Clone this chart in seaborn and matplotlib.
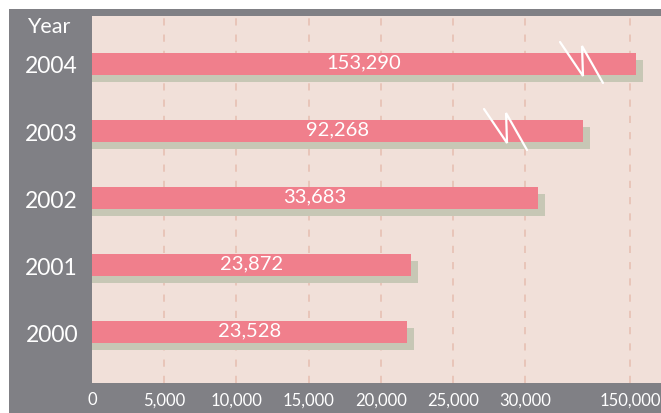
import numpy as np
import pandas as pd
import matplotlib
matplotlib.use("Agg")
import matplotlib.pyplot as plt
import matplotlib.transforms as mtransforms
from matplotlib.patches import Rectangle
from matplotlib.lines import Line2D
import seaborn as sns

# ---- data ----
years = ["2004", "2003", "2002", "2001", "2000"]
value_labels = ["153,290", "92,268", "33,683", "23,872", "23,528"]
# drawn bar lengths on the broken axis (as they appear in the picture)
bar_lengths = [156900, 96300, 44900, 22100, 21830]
# bars that carry a break mark, and where the mark sits (data units)
break_years = ["2004", "2003"]
break_at = [70000, 27160]
tick_values = [0, 5000, 10000, 15000, 20000, 25000, 30000, 150000]
tick_labels = ["0", "5,000", "10,000", "15,000", "20,000", "25,000", "30,000", "150,000"]

FRAME = "#808085"
BG = "#f1e0d9"
PINK = "#f07f8c"
SHADOW = "#c7c7b5"
GRID = "#e8c3b6"

sns.set_theme(style="white")
plt.rcParams["font.family"] = ["Lato", "DejaVu Sans"]

# broken-axis scale: linear to 30,000 then compressed
K = 0.06058
def fwd(v):
    v = np.asarray(v, dtype=float)
    return np.where(v <= 30000, v, 30000 + (v - 30000) * K)
def inv(u):
    u = np.asarray(u, dtype=float)
    return np.where(u <= 30000, u, 30000 + (u - 30000) / K)

W, H = 661, 414
fig = plt.figure(figsize=(W / 100, H / 100), dpi=100)
fig.patch.set_facecolor("white")
frame = Rectangle((9 / W, 0), 1, (H - 10) / H, transform=fig.transFigure,
                  facecolor=FRAME, edgecolor="none", zorder=-10)
fig.add_artist(frame)

ax = fig.add_axes([92 / W, (H - 384) / H, (W - 92) / W, (384 - 17) / H])
ax.set_zorder(1)
ax.set_facecolor(BG)

df = pd.DataFrame({"year": years, "length": bar_lengths})

sns.barplot(data=df, y="year", x="length", order=years, orient="h", color=SHADOW,
            saturation=1, width=0.33, ax=ax, zorder=2, linewidth=0, edgecolor="none")
n_shadow = len(ax.patches)
sns.barplot(data=df, y="year", x="length", order=years, orient="h", color=PINK,
            saturation=1, width=0.33, ax=ax, zorder=3, linewidth=0, edgecolor="none")

ax.set_xscale("function", functions=(fwd, inv))
ax.set_xlim(0, 185500)
ax.set_ylim(4.76, -0.716)

# shadow: extend to the left (clipped) and shift right/down
off = mtransforms.ScaledTranslation(7 / 100, -7 / 100, fig.dpi_scale_trans)
for p in ax.patches[:n_shadow]:
    x0, w = p.get_x(), p.get_width()
    p.set_x(-20000)
    p.set_width(x0 + w + 20000)
    p.set_transform(ax.transData + off)
    p.set_zorder(2)

# grid
ax.set_xticks(tick_values)
ax.set_xticklabels(tick_labels)
ax.grid(axis="x", color=GRID, linestyle=(0, (4, 5)), linewidth=1.3, zorder=1)
ax.set_axisbelow(True)
gl = ax.get_xgridlines()
if gl:
    gl[0].set_visible(False)

for s in ax.spines.values():
    s.set_visible(False)
ax.set_xlabel("")
ax.set_ylabel("")
ax.tick_params(axis="x", length=0, pad=6, labelsize=12, labelcolor="white")
ax.tick_params(axis="y", length=0, pad=29, labelsize=16.5, labelcolor="white")
for t in ax.get_yticklabels():
    t.set_ha("center")

# value labels centered on the bars
for i, (yr, lab) in enumerate(zip(years, value_labels)):
    x_end = ax.transData.transform((bar_lengths[i], i))[0]
    x_start = ax.transData.transform((0, i))[0]
    xm = ax.transData.inverted().transform(((x_start + x_end) / 2, 0))[0]
    ax.text(xm, i - 0.03, lab, ha="center", va="center", color="white",
            fontsize=14.5, zorder=5)

# break marks (zig-zag) on the long bars
shape = np.array([(0, -22), (23, 12), (22, -18), (43, 19)], dtype=float)
for yr, xb in zip(break_years, break_at):
    i = years.index(yr)
    px, py = ax.transData.transform((xb, i))
    xs = px + shape[:, 0]
    ys = py - shape[:, 1]
    ln = Line2D(xs, ys, transform=mtransforms.IdentityTransform(), color="white",
                linewidth=1.6, zorder=6, solid_joinstyle="miter")
    fig.add_artist(ln)

fig.text(49 / W, 1 - 27 / H, "Year", ha="center", va="center", color="white", fontsize=15.5)

fig.savefig("out.png", dpi=100, facecolor=fig.get_facecolor())
